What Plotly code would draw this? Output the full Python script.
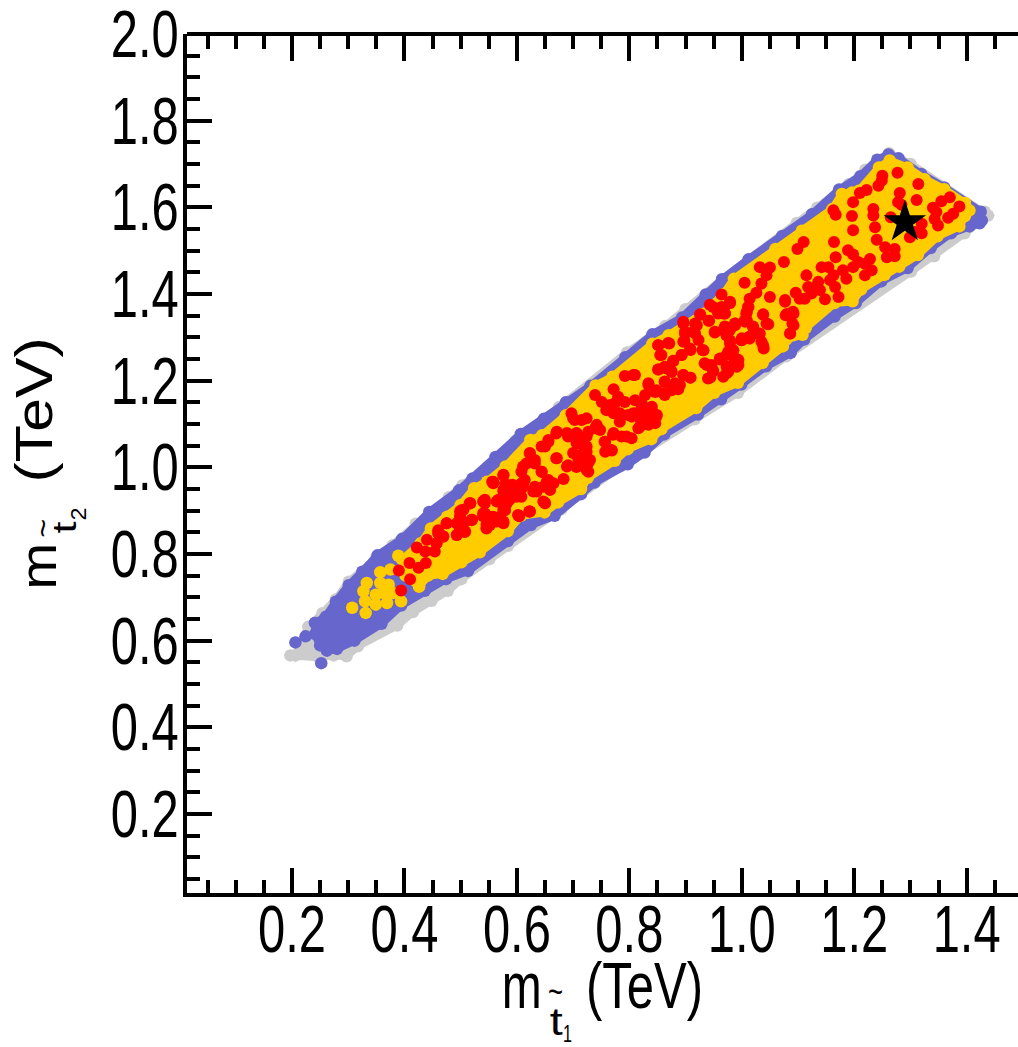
import json
import plotly.graph_objects as go

# axis scale
x_range = [0.0132, 1.4913]
y_range = [0.0177, 2.0]
x_ticks = [0.2, 0.4, 0.6, 0.8, 1.0, 1.2, 1.4]
y_ticks = [0.2, 0.4, 0.6, 0.8, 1.0, 1.2, 1.4, 1.6, 1.8, 2.0]

# outline of the grey points
grey_x = [0.206,0.229,0.254,0.278,0.301,0.349,0.379,0.420,0.479,0.503,0.598,0.675,0.796,0.864,0.900,0.965,1.098,1.134,1.190,1.220,1.262,1.300,1.432,1.438,1.396,1.342,1.301,1.079,0.993,0.916,0.785,0.679,0.584,0.551,0.501,0.477,0.448,0.415,0.387,0.317,0.297,0.274,0.247,0.197]
grey_y = [0.566,0.632,0.663,0.695,0.736,0.789,0.820,0.870,0.931,0.958,1.062,1.139,1.265,1.326,1.365,1.434,1.564,1.599,1.653,1.687,1.725,1.700,1.590,1.581,1.540,1.487,1.452,1.256,1.172,1.111,1.003,0.903,0.819,0.788,0.742,0.715,0.692,0.666,0.635,0.587,0.564,0.566,0.562,0.566]

# outline of the blue points
blue_x = [0.241,0.260,0.278,0.301,0.325,0.352,0.396,0.444,0.497,0.521,0.562,0.607,0.648,0.687,0.731,0.793,0.841,0.894,0.936,0.965,1.012,1.072,1.125,1.173,1.211,1.241,1.261,1.279,1.319,1.360,1.425,1.427,1.423,1.405,1.372,1.336,1.295,1.248,1.203,1.165,1.111,1.087,1.043,0.999,0.963,0.922,0.862,0.827,0.797,0.738,0.714,0.667,0.625,0.584,0.513,0.474,0.436,0.394,0.359,0.311,0.280,0.262,0.250,0.241]
blue_y = [0.641,0.655,0.690,0.728,0.759,0.797,0.835,0.897,0.947,0.974,1.024,1.077,1.112,1.150,1.188,1.254,1.307,1.346,1.399,1.434,1.480,1.534,1.584,1.641,1.672,1.710,1.722,1.713,1.677,1.646,1.590,1.570,1.563,1.556,1.540,1.506,1.460,1.429,1.379,1.348,1.295,1.264,1.233,1.191,1.157,1.122,1.076,1.034,1.007,0.965,0.938,0.888,0.867,0.830,0.761,0.742,0.715,0.681,0.639,0.600,0.581,0.577,0.589,0.615]

# outline of the yellow points
yellow_x = [0.426,0.402,0.396,0.429,0.447,0.476,0.500,0.524,0.547,0.580,0.624,0.645,0.687,0.740,0.770,0.841,0.870,0.930,0.968,0.986,1.060,1.107,1.161,1.178,1.196,1.208,1.244,1.263,1.295,1.325,1.360,1.397,1.405,1.397,1.387,1.348,1.313,1.280,1.254,1.212,1.197,1.165,1.114,1.108,1.079,1.073,1.037,0.993,0.951,0.919,0.857,0.839,0.797,0.774,0.726,0.714,0.673,0.649,0.607,0.584,0.534,0.501,0.468,0.442]
yellow_y = [0.725,0.750,0.787,0.825,0.859,0.886,0.913,0.952,0.967,1.002,1.063,1.074,1.120,1.189,1.209,1.285,1.305,1.354,1.400,1.435,1.504,1.546,1.596,1.631,1.634,1.638,1.692,1.708,1.692,1.665,1.642,1.610,1.593,1.580,1.556,1.533,1.490,1.463,1.444,1.410,1.383,1.379,1.322,1.306,1.295,1.279,1.241,1.195,1.172,1.137,1.088,1.065,1.042,1.015,0.976,0.950,0.919,0.896,0.888,0.853,0.804,0.781,0.754,0.750]

# separate blue and yellow points outside the outlines
blue_extra_x = [0.206,0.224,0.252]
blue_extra_y = [0.596,0.610,0.548]
yellow_extra_x = [0.307,0.331,0.330,0.333,0.327,0.349,0.349,0.369,0.363,0.357,0.372,0.379,0.394,0.357,0.375,0.389]
yellow_extra_y = [0.676,0.664,0.691,0.733,0.714,0.683,0.706,0.687,0.710,0.733,0.729,0.710,0.691,0.758,0.764,0.796]

# red points
red_x = [1.277,1.314,1.250,1.249,1.243,1.222,1.210,1.281,1.311,1.198,1.278,1.284,1.234,1.234,1.196,1.265,1.237,1.198,1.240,1.255,1.272,1.258,1.272,1.299,1.320,1.320,1.308,1.340,1.355,1.370,1.387,1.376,1.367,1.343,1.349,1.346,
 1.164,1.110,1.099,1.163,1.167,1.167,1.189,1.198,1.075,1.228,1.219,1.207,1.198,1.180,1.186,1.219,1.231,1.032,1.050,1.044,1.005,1.035,1.026,1.050,1.014,0.979,0.964,1.077,1.096,1.103,1.115,1.142,1.154,1.163,1.136,1.118,1.124,1.139,1.148,1.172,1.166,1.157,1.133,1.112,1.091,1.078,1.090,1.086,1.011,1.008,1.005,1.038,1.047,1.020,1.032,1.035,1.039,1.014,0.999,0.988,0.979,0.967,0.970,0.964,0.979,0.973,0.988,0.991,0.973,
 0.949,0.979,0.967,0.958,0.926,0.941,0.920,0.896,0.899,0.908,0.917,0.932,0.896,0.952,0.970,0.988,0.973,1.000,1.009,1.012,0.985,0.961,0.988,0.994,0.973,0.938,0.949,0.944,0.908,0.893,0.878,0.852,0.869,0.855,0.852,0.866,0.875,0.896,0.890,0.875,0.861,0.863,0.846,0.834,0.807,0.792,0.772,0.739,0.751,0.766,0.780,0.792,0.772,0.798,0.783,0.822,0.840,0.849,0.831,0.819,0.816,0.846,
 0.697,0.703,0.724,0.742,0.727,0.748,0.706,0.689,0.671,0.656,0.650,0.706,0.724,0.718,0.700,0.671,0.689,0.709,0.727,0.727,0.772,0.757,0.757,0.769,0.786,0.804,0.623,0.611,0.632,0.644,0.653,0.659,0.635,0.611,0.650,0.683,0.556,0.576,0.592,0.576,0.564,0.582,0.622,0.604,0.543,0.517,0.499,0.520,0.540,0.558,0.576,0.505,0.546,0.493,
 0.394,0.410,0.390,0.409,0.425,0.438,0.422,0.437,0.440,0.454,0.457,0.469,0.460,0.475,0.493,0.508,0.499,0.520,0.517,0.541,0.544,0.546,0.564,0.576,0.576,0.558,0.567,0.505,
 0.623,0.617,0.608,0.614,0.608,0.632,0.644,0.656,0.647,0.632,0.593,0.581,0.570,0.587,0.599,0.576,0.656,0.644,0.670,0.691,0.706,0.712,0.724,0.730,0.709,0.691,0.670,0.706,0.724,0.724,0.739,0.715,0.700,0.756,0.768,0.771,0.795,0.783,0.759,0.774,0.807,0.819,0.647,0.623,0.604,0.570,0.558,0.576,0.543,0.540,0.552,
 0.943,0.958,0.970,0.979,0.926,0.942,0.896,0.899,0.917,0.914,0.923,0.930,0.898,0.952,0.970,0.988,0.973,0.979,1.000,1.014,1.009,1.006,1.020,1.029,1.038,1.038,1.044,1.077,1.080,1.092,1.092,1.086,0.871,0.851,0.857,0.893,0.909,0.878,0.851,0.863,0.875,0.810,0.896,0.909,0.881,0.863,0.887,0.863,0.934,0.946,0.940,0.949,0.961,0.976,0.994,0.985,0.976,0.967,0.848,0.834,0.828,0.810,0.822,0.840,0.848,0.831,0.813,0.804,0.834,
 0.457,0.463,0.469,0.460,0.475,0.493,0.507,0.499,0.496,0.519,0.516,0.501,0.540,0.543,0.546,0.552,0.564,0.576,0.570,0.579,0.582,0.596,0.608,0.623,0.602,0.558,0.579,0.608,0.629,0.659,0.650,0.665]
red_y = [1.680,1.654,1.673,1.662,1.650,1.640,1.633,1.633,1.617,1.612,1.612,1.606,1.596,1.581,1.580,1.577,1.554,1.547,1.525,1.508,1.504,1.485,1.487,1.531,1.562,1.540,1.543,1.599,1.614,1.623,1.602,1.585,1.576,1.573,1.558,1.589,
 1.520,1.520,1.504,1.593,1.583,1.485,1.501,1.491,1.474,1.481,1.470,1.474,1.462,1.455,1.435,1.443,1.455,1.462,1.461,1.443,1.426,1.424,1.403,1.393,1.389,1.379,1.399,1.386,1.403,1.389,1.443,1.462,1.462,1.443,1.428,1.416,1.401,1.409,1.388,1.393,1.416,1.432,1.416,1.389,1.359,1.351,1.332,1.309,1.370,1.355,1.339,1.353,1.330,1.324,1.309,1.290,1.274,1.297,1.293,1.332,1.317,1.317,1.355,1.370,1.293,1.259,1.247,1.232,1.232,
 1.370,1.379,1.355,1.355,1.353,1.338,1.328,1.336,1.309,1.274,1.309,1.270,1.290,1.313,1.324,1.332,1.305,1.293,1.339,1.370,1.270,1.251,1.251,1.236,1.217,1.236,1.224,1.207,1.207,1.259,1.246,1.282,1.287,1.259,1.226,1.228,1.220,1.213,1.190,1.178,1.171,1.197,1.174,1.190,1.213,1.211,1.180,1.167,1.151,1.144,1.163,1.151,1.125,1.121,1.105,1.148,1.140,1.121,1.125,1.113,1.090,1.102,
 1.125,1.109,1.113,1.098,1.082,1.086,1.079,1.079,1.082,1.063,1.048,1.056,1.048,1.033,1.033,1.021,1.002,1.006,1.010,0.990,1.079,1.059,1.036,1.039,1.071,1.067,1.033,1.002,1.017,0.990,0.967,0.948,0.944,0.956,0.918,0.973,0.967,0.983,0.960,0.944,0.921,0.917,0.898,0.887,0.925,0.917,0.898,0.879,0.887,0.883,0.875,0.871,0.868,0.871,
 0.716,0.742,0.762,0.779,0.768,0.779,0.815,0.806,0.833,0.806,0.825,0.841,0.848,0.871,0.844,0.852,0.887,0.879,0.917,0.921,0.887,0.860,0.879,0.910,0.948,0.963,0.925,0.902,
 1.032,1.009,0.990,0.971,0.951,1.009,0.990,0.971,0.955,0.955,0.955,0.940,0.925,0.925,0.932,0.982,1.059,1.048,1.078,1.071,1.078,1.055,1.036,1.017,1.021,1.005,1.021,1.001,0.994,1.071,1.090,1.109,1.113,1.059,1.040,1.075,1.071,1.125,1.132,1.148,1.125,1.094,0.921,0.898,0.888,0.886,0.886,0.901,0.917,0.894,0.867,
 1.375,1.359,1.355,1.382,1.352,1.338,1.332,1.313,1.332,1.313,1.294,1.271,1.292,1.311,1.325,1.328,1.305,1.286,1.298,1.302,1.359,1.336,1.325,1.309,1.282,1.352,1.332,1.382,1.354,1.355,1.328,1.309,1.286,1.282,1.259,1.259,1.271,1.245,1.226,1.232,1.222,1.213,1.213,1.207,1.194,1.198,1.180,1.167,1.240,1.236,1.205,1.221,1.249,1.267,1.248,1.236,1.221,1.209,1.178,1.194,1.167,1.155,1.140,1.132,1.117,1.113,1.125,1.117,1.098,
 0.825,0.844,0.840,0.855,0.871,0.844,0.851,0.886,0.867,0.878,0.917,0.901,0.921,0.894,0.859,0.886,0.875,0.871,0.921,0.901,0.932,0.948,0.932,0.898,0.890,0.967,0.963,0.963,0.944,0.948,0.917,0.963]

# benchmark star
star_x = [1.290]
star_y = [1.566]

GREY = "#cccccc"
BLUE = "#6666cc"
YELLOW = "#ffcc00"
RED = "#ff0000"
W, H = 1018, 1047
L, R, T, B = 187, 1018, 34, 893
FONT = "Liberation Sans, sans-serif"

fig = go.Figure()


def band(xs, ys, colour):
    fig.add_trace(go.Scatter(x=xs + xs[:1], y=ys + ys[:1], mode="lines+markers", fill="toself", fillcolor=colour,
                             line=dict(color=colour, width=8),
                             marker=dict(color=colour, size=12.5), showlegend=False, hoverinfo="skip"))


def dots(xs, ys, colour, size=12.5, symbol="circle", xaxis="x"):
    fig.add_trace(go.Scatter(x=xs, y=ys, mode="markers", xaxis=xaxis,
                             marker=dict(color=colour, size=size, symbol=symbol, line=dict(width=0)),
                             showlegend=False))


band(grey_x, grey_y, GREY)
band(blue_x, blue_y, BLUE)
dots(blue_extra_x, blue_extra_y, BLUE)
dots(yellow_extra_x, yellow_extra_y, YELLOW)
band(yellow_x, yellow_y, YELLOW)
dots(red_x, red_y, RED, size=12)
dots(star_x, star_y, "#000000", size=32, symbol="star", xaxis="x2")

axis_common = dict(showgrid=False, zeroline=False, showline=True, linecolor="black", linewidth=4,
                   ticks="inside", ticklen=25, tickwidth=3.5, tickcolor="black",
                   ticklabeloverflow="allow",
                   tickfont=dict(family=FONT, size=66, color="black"),
                   minor=dict(ticks="inside", ticklen=13, tickwidth=3.5, tickcolor="black", dtick=0.05, showgrid=False))
fig.update_xaxes(range=x_range, tickvals=x_ticks, ticktext=[f"{v:.1f}" for v in x_ticks],
                 ticklabelstandoff=-24, **axis_common)
fig.update_yaxes(range=y_range, tickvals=y_ticks, ticktext=[f"{v:.1f}" for v in y_ticks],
                 ticklabelstandoff=-9, **axis_common)
top_axis = dict(axis_common)
top_axis.update(showticklabels=False)
fig.update_layout(xaxis2=dict(range=x_range, overlaying="x", side="top", anchor="free",
                              position=1, tickvals=x_ticks, **top_axis))

title_lengths = []


def label(text, px, py, size, length, angle=0):
    fig.add_annotation(text=text, x=(px - L) / (R - L), y=(B - py) / (B - T), xref="paper", yref="paper",
                       showarrow=False, textangle=angle, font=dict(family=FONT, size=size, color="black"),
                       xanchor="center", yanchor="middle")
    title_lengths.append(length)


fig.update_layout(width=W, height=H, margin=dict(l=L, r=W - R, t=T, b=H - B, autoexpand=False),
                  plot_bgcolor="white", paper_bgcolor="white", showlegend=False)

label("m", 521, 986, 64, 40)
label("~", 555, 991, 36, 15)
label("t", 556, 1022, 38, 13)
label("1", 567, 1034, 23, 9)
label("(TeV)", 644, 986, 64, 117)

label("m", 38, 567, 52, 47, -90)
label("~", 42, 528, 30, 19, -90)
label("t", 64, 528, 33, 12, -90)
label("2", 78, 514, 22, 13, -90)
label("(TeV)", 34, 410, 52, 145, -90)

script = """
document.body.style.margin='0';document.body.style.overflow='hidden';
document.querySelectorAll('.xtick text, .ytick text').forEach(function(t){
  t.setAttribute('textLength','68');t.setAttribute('lengthAdjust','spacingAndGlyphs');});
var L=%s;
document.querySelectorAll('.annotation-text').forEach(function(t,i){
  t.setAttribute('textLength',String(L[i]));t.setAttribute('lengthAdjust','spacingAndGlyphs');});
""" % json.dumps(title_lengths)

fig.write_html("out.html", config={"displayModeBar": False}, post_script=script)
